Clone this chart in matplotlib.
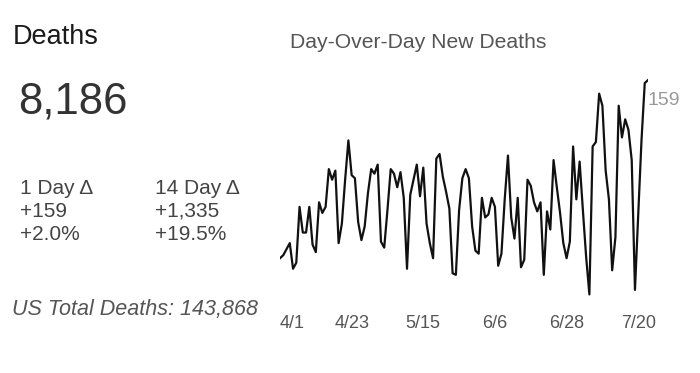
import pandas as pd
import matplotlib.pyplot as plt

plt.rcParams["font.family"] = ["Liberation Sans", "DejaVu Sans"]

# daily new deaths (starting 4/1)
start_date = "2020-04-01"
new_deaths = [
    41, 43, 47, 51, 34, 38, 75, 58, 58, 75, 50, 45, 78, 71, 75, 100, 93, 99, 51, 64,
    93, 119, 96, 94, 65, 53, 62, 84, 100, 97, 103, 52, 48, 73, 100, 97, 88, 98, 81, 34,
    83, 93, 103, 82, 101, 64, 51, 41, 107, 110, 95, 85, 74, 31, 30, 73, 94, 100, 94, 62,
    46, 44, 81, 68, 70, 81, 75, 36, 44, 80, 109, 68, 54, 81, 35, 40, 93, 89, 78, 72,
    78, 30, 72, 60, 106, 88, 71, 51, 41, 52, 115, 80, 105, 73, 42, 17, 115, 118, 150, 142,
    99, 80, 33, 55, 142, 121, 133, 126, 106, 20, 70, 119, 157, 159,
]
tick_labels = ["4/1", "4/23", "5/15", "6/6", "6/28", "7/20"]

headline = "Deaths"
total_local = "8,186"
day1 = ["1 Day Δ", "+159", "+2.0%"]
day14 = ["14 Day Δ", "+1,335", "+19.5%"]
us_total = "US Total Deaths: 143,868"
chart_title = "Day-Over-Day New Deaths"

dates = pd.date_range(start_date, periods=len(new_deaths), freq="D")
tick_dates = [pd.Timestamp("2020-" + t.replace("/", "-")) for t in tick_labels]

W, H = 700, 373
fig = plt.figure(figsize=(W / 100, H / 100), dpi=100)
fig.patch.set_facecolor("white")


def px(x, y):
    return x / W, 1 - y / H


# left panel text
fig.text(*px(13, 37), headline, fontsize=19.5, color="#1a1a1a", va="center", ha="left")
fig.text(*px(18, 102), total_local, fontsize=31.5, color="#333333", va="center", ha="left")
for i, (a, b) in enumerate(zip(day1, day14)):
    y = 188 + i * 23
    fig.text(*px(20, y), a, fontsize=15, color="#444444", va="center", ha="left")
    fig.text(*px(155, y), b, fontsize=15, color="#444444", va="center", ha="left")
fig.text(*px(12, 310), us_total, fontsize=15.5, color="#555555", style="italic",
         va="center", ha="left")

# title over the sparkline
fig.text(*px(418, 42), chart_title, fontsize=15.2, color="#555555", va="center", ha="center")

# sparkline
x0, x1 = 280, 648
ax = fig.add_axes([x0 / W, 1 - 305 / H, (x1 - x0) / W, (305 - 71) / H])
ax.plot(dates, new_deaths, color="#111111", linewidth=1.6)
ax.set_xlim(dates[0], dates[-1])
ax.set_ylim(10, 165)
for s in ax.spines.values():
    s.set_visible(False)
ax.set_yticks([])
ax.set_xticks(tick_dates)
ax.set_xticklabels(tick_labels)
ax.tick_params(axis="x", length=0, pad=7, labelsize=13, labelcolor="#555555")
ax.get_xticklabels()[0].set_ha("left")

ax.annotate(str(new_deaths[-1]), xy=(dates[-1], new_deaths[-1]), xytext=(0, -15),
            textcoords="offset points", fontsize=14, color="#999999",
            ha="left", va="center", annotation_clip=False)

fig.savefig("out.png", dpi=100)
